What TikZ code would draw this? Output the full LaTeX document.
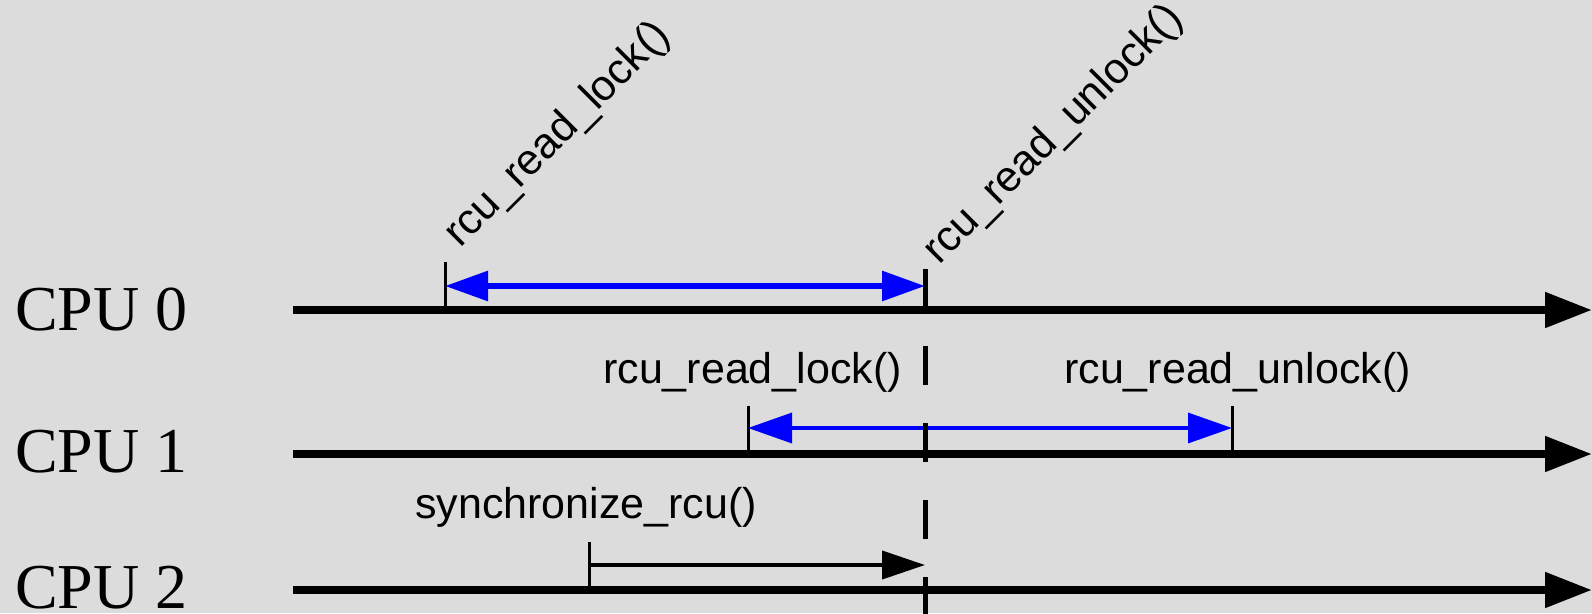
\documentclass[tikz,border=0pt]{standalone}
\usepackage{fontspec}
\setmainfont{Liberation Serif}
\newfontfamily\labelfont{Liberation Sans}
\usetikzlibrary{arrows.meta}
\definecolor{bg}{RGB}{220,220,220}
\begin{document}
\begin{tikzpicture}[x=1pt,y=-1pt,
  cpuline/.style={line width=8pt,-{Triangle[length=47pt,width=34pt]}},
  tickline/.style={line width=3pt},
  spanzero/.style={blue,line width=6pt,{Triangle[length=43pt,width=29pt]}-{Triangle[length=43pt,width=29pt]}},
  spanone/.style={blue,line width=3.5pt,{Triangle[length=44pt,width=30pt]}-{Triangle[length=44pt,width=30pt]}},
  syncarrow/.style={line width=4pt,-{Triangle[length=43pt,width=28pt]}},
  gpline/.style={line width=5pt,dash pattern=on 39pt off 38pt},
  cpulabel/.style={font=\fontsize{64}{64}\selectfont,anchor=base west,inner sep=0pt},
  fnlabel/.style={font=\labelfont\fontsize{43}{43}\selectfont,anchor=base west,inner sep=0pt}
]
\fill[bg] (0,0) rectangle (1592,613);
\useasboundingbox (0,0) rectangle (1592,613);

% CPU labels
\node[cpulabel] (cpu0) at (15,330) {CPU 0};
\node[cpulabel] (cpu1) at (15,472) {CPU 1};
\node[cpulabel] (cpu2) at (15,608) {CPU 2};

% timeline coordinates
\coordinate (c0s) at (293,310); \coordinate (c0e) at (1592,310);
\coordinate (c1s) at (293,454); \coordinate (c1e) at (1592,454);
\coordinate (c2s) at (293,590); \coordinate (c2e) at (1592,590);

\coordinate (t0a) at (445,310); \coordinate (t0at) at (445,262);
\coordinate (a0l) at (445,286); \coordinate (a0r) at (925,286);
\coordinate (gpt) at (925,269); \coordinate (gpb) at (925,616);
\coordinate (t1a) at (748,454); \coordinate (t1at) at (748,406);
\coordinate (t1b) at (1232,454); \coordinate (t1bt) at (1232,406);
\coordinate (a1l) at (748,428); \coordinate (a1r) at (1232,428);
\coordinate (t2) at (589,590); \coordinate (t2t) at (589,542);
\coordinate (a2l) at (589,565); \coordinate (a2r) at (925,565);

% timelines
\draw[cpuline] (c0s) -- (c0e);
\draw[cpuline] (c1s) -- (c1e);
\draw[cpuline] (c2s) -- (c2e);

% ticks
\draw[tickline] (t0a) -- (t0at);
\draw[tickline] (t1a) -- (t1at);
\draw[tickline] (t1b) -- (t1bt);
\draw[tickline] (t2) -- (t2t);

% spans
\draw[spanzero] (a0l) -- (a0r);
\draw[spanone] (a1l) -- (a1r);
\draw[syncarrow] (a2l) -- (a2r);

% grace period end line
\draw[gpline] (gpt) -- (gpb);

% labels
\node[fnlabel,rotate=45] (lock0) at (460,249) {rcu\_read\_lock()};
\node[fnlabel,rotate=45] (unlock0) at (939,266) {rcu\_read\_unlock()};
\node[fnlabel] (lock1) at (603,383) {rcu\_read\_lock()};
\node[fnlabel] (unlock1) at (1064,383) {rcu\_read\_unlock()};
\node[fnlabel] (sync) at (415,518) {synchronize\_rcu()};
\end{tikzpicture}
\end{document}
